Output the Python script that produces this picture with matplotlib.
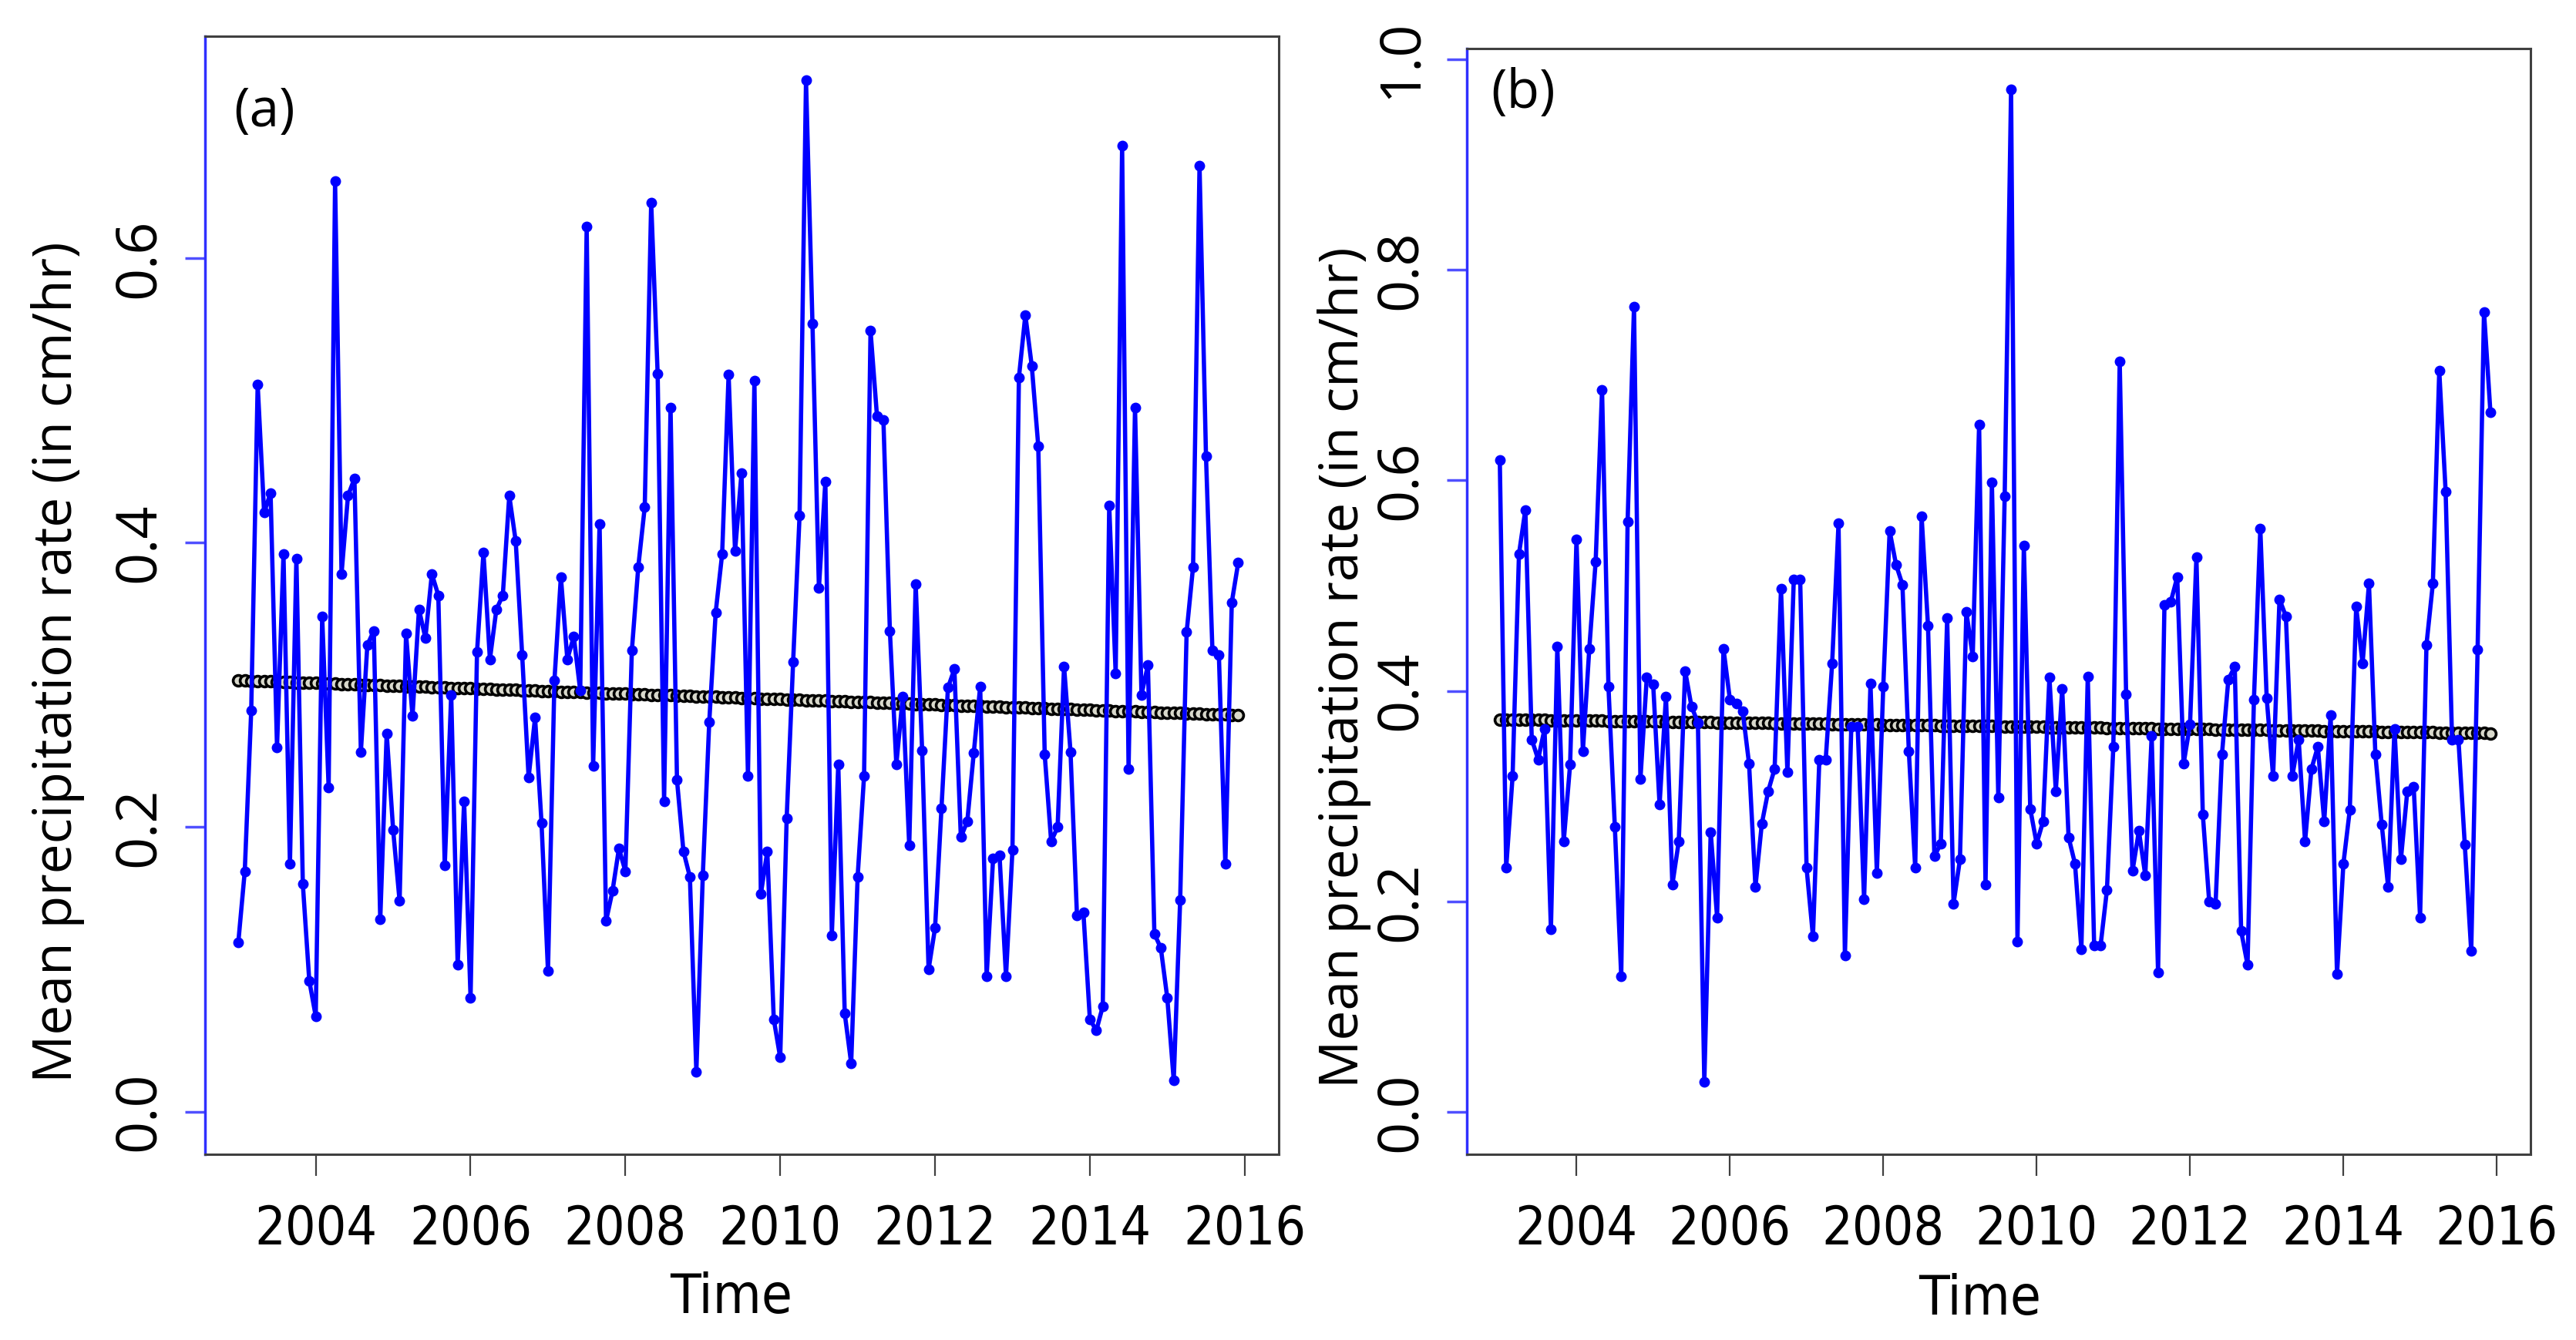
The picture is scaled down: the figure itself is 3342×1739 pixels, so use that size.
#!/usr/bin/env python3
import numpy as np
import matplotlib

matplotlib.use("Agg")
import matplotlib.pyplot as plt

# monthly series, Jan 2003 .. Dec 2015 (156 months)
start_year = 2003
rate_a = [
    0.119, 0.169, 0.282, 0.511, 0.421, 0.435, 0.256, 0.392, 0.174, 0.389, 0.160, 0.092,
    0.067, 0.348, 0.228, 0.654, 0.378, 0.433, 0.445, 0.253, 0.328, 0.338, 0.135, 0.266,
    0.198, 0.148, 0.336, 0.278, 0.353, 0.333, 0.378, 0.363, 0.173, 0.293, 0.103, 0.218,
    0.080, 0.323, 0.393, 0.318, 0.353, 0.363, 0.433, 0.401, 0.321, 0.235, 0.277, 0.203,
    0.099, 0.303, 0.376, 0.318, 0.334, 0.296, 0.622, 0.243, 0.413, 0.134, 0.155, 0.185,
    0.169, 0.324, 0.383, 0.425, 0.639, 0.519, 0.218, 0.495, 0.233, 0.183, 0.165, 0.028,
    0.166, 0.274, 0.351, 0.392, 0.518, 0.394, 0.449, 0.236, 0.514, 0.153, 0.183, 0.065,
    0.038, 0.206, 0.316, 0.419, 0.725, 0.554, 0.368, 0.443, 0.124, 0.244, 0.069, 0.034,
    0.165, 0.236, 0.549, 0.489, 0.486, 0.338, 0.244, 0.292, 0.187, 0.371, 0.254, 0.100,
    0.129, 0.213, 0.298, 0.311, 0.193, 0.204, 0.252, 0.299, 0.095, 0.178, 0.180, 0.095,
    0.184, 0.516, 0.560, 0.524, 0.468, 0.251, 0.190, 0.200, 0.313, 0.253, 0.138, 0.140,
    0.065, 0.057, 0.074, 0.426, 0.308, 0.679, 0.241, 0.495, 0.293, 0.314, 0.125, 0.115,
    0.080, 0.022, 0.149, 0.337, 0.383, 0.665, 0.461, 0.324, 0.321, 0.174, 0.358, 0.386,
]
rate_b = [
    0.619, 0.232, 0.319, 0.530, 0.572, 0.354, 0.335, 0.364, 0.174, 0.442, 0.257, 0.330,
    0.544, 0.343, 0.440, 0.523, 0.686, 0.404, 0.271, 0.129, 0.561, 0.765, 0.316, 0.413,
    0.406, 0.292, 0.395, 0.216, 0.257, 0.419, 0.385, 0.370, 0.029, 0.266, 0.185, 0.440,
    0.392, 0.388, 0.381, 0.331, 0.214, 0.274, 0.305, 0.326, 0.497, 0.323, 0.506, 0.506,
    0.232, 0.167, 0.335, 0.335, 0.426, 0.559, 0.149, 0.366, 0.366, 0.202, 0.407, 0.227,
    0.404, 0.552, 0.520, 0.501, 0.343, 0.232, 0.566, 0.462, 0.243, 0.255, 0.469, 0.198,
    0.240, 0.475, 0.433, 0.653, 0.216, 0.598, 0.299, 0.585, 0.971, 0.162, 0.538, 0.288,
    0.255, 0.276, 0.413, 0.305, 0.402, 0.261, 0.236, 0.155, 0.414, 0.158, 0.158, 0.211,
    0.347, 0.713, 0.397, 0.229, 0.267, 0.225, 0.357, 0.133, 0.482, 0.485, 0.508, 0.331,
    0.368, 0.527, 0.283, 0.200, 0.198, 0.340, 0.411, 0.423, 0.172, 0.140, 0.392, 0.554,
    0.393, 0.319, 0.487, 0.471, 0.319, 0.354, 0.257, 0.326, 0.347, 0.276, 0.377, 0.131,
    0.236, 0.287, 0.480, 0.426, 0.502, 0.340, 0.273, 0.214, 0.364, 0.240, 0.305, 0.309,
    0.185, 0.444, 0.502, 0.704, 0.589, 0.354, 0.354, 0.254, 0.153, 0.439, 0.760, 0.665,
]
year_ticks = [2004, 2006, 2008, 2010, 2012, 2014, 2016]
yticks_a = [0.0, 0.2, 0.4, 0.6]
yticks_b = [0.0, 0.2, 0.4, 0.6, 0.8, 1.0]
panel_labels = ["(a)", "(b)"]

W, H = 3342, 1739
fig = plt.figure(figsize=(W / 100, H / 100), dpi=100)

BLUE = "#0000ff"
FRAME = "#404040"
TEXT_FONT = ["Open Sans", "DejaVu Sans"]
NARROW_FONT = ["Liberation Sans Narrow", "DejaVu Sans"]


def px_axes(left, top, right, bottom):
    return fig.add_axes([left / W, 1 - bottom / H, (right - left) / W, (bottom - top) / H])


def draw_panel(ax, values, yticks, ylim, label, label_xy, ylab_xy, xlab_xy):
    t = start_year + np.arange(len(values)) / 12.0
    v = np.asarray(values)

    # linear trend of the series
    coef = np.polyfit(t, v, 1)
    trend = np.polyval(coef, t)

    ax.plot(t, v, color=BLUE, lw=4.0, marker="o", ms=9, mfc=BLUE, mec=BLUE, zorder=3)
    ax.plot(t, trend, color="black", lw=2.0, marker="o", ms=10, mfc="#d9d9cc",
            mec="black", mew=2.6, zorder=2)

    ax.set_xlim(2002.57, 2016.44)
    ax.set_ylim(*ylim)
    ax.set_xticks(year_ticks)
    ax.set_xticklabels([str(y) for y in year_ticks], family=NARROW_FONT,
                       fontstretch="condensed", fontsize=50)
    ax.set_yticks(yticks)
    ax.set_yticklabels([f"{y:.1f}" for y in yticks], family=TEXT_FONT, fontsize=53,
                       rotation=90, va="center")
    ax.tick_params(axis="x", length=20, width=1.6, color=FRAME, pad=26)
    ax.tick_params(axis="y", length=19, width=2.5, color="#5050ff", pad=16)

    for side in ("top", "right", "bottom"):
        ax.spines[side].set_color(FRAME)
        ax.spines[side].set_linewidth(2.2)
    ax.spines["left"].set_color("#3030ff")
    ax.spines["left"].set_linewidth(2.5)

    ax.set_ylabel("Mean precipitation rate (in cm/hr)", family=TEXT_FONT, fontsize=50)
    ax.yaxis.set_label_coords(*ylab_xy)
    ax.set_xlabel("Time", family=NARROW_FONT, fontstretch="condensed", fontsize=52)
    ax.xaxis.set_label_coords(*xlab_xy)

    ax.text(label_xy[0], label_xy[1], label, transform=ax.transAxes, family=TEXT_FONT,
            fontsize=50, ha="center", va="center")


ax_a = px_axes(266, 47, 1659, 1498)
draw_panel(ax_a, rate_a, yticks_a, (-0.030, 0.756), panel_labels[0],
           (0.055, 0.932), (-0.112, 0.44), (0.49, -0.105))

ax_b = px_axes(1903, 63, 3283, 1498)
draw_panel(ax_b, rate_b, yticks_b, (-0.040, 1.010), panel_labels[1],
           (0.053, 0.959), (-0.090, 0.44), (0.482, -0.107))

fig.savefig("out.png", dpi=100, facecolor="white")
plt.close(fig)
